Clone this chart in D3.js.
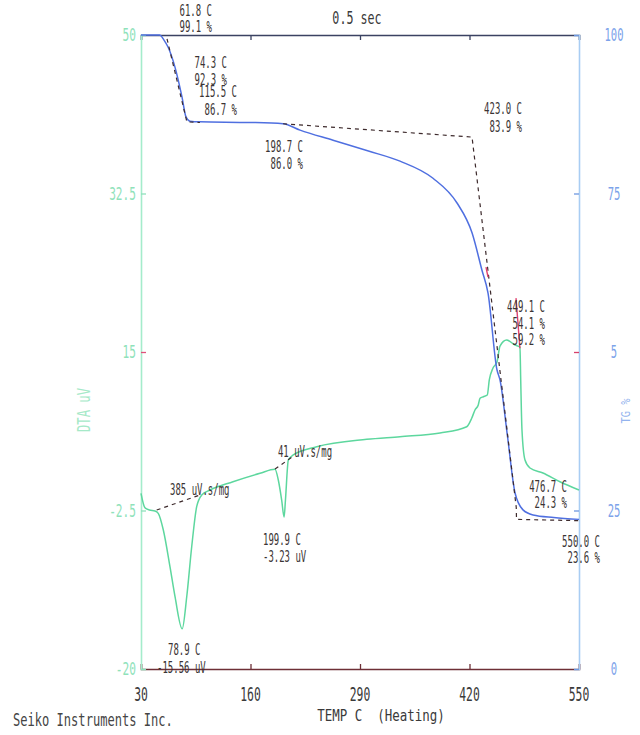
<!DOCTYPE html>
<html>
<head>
<meta charset="utf-8">
<script src="https://cdn.jsdelivr.net/npm/d3@7"></script>
<style>
  body { margin: 0; background: #fff; }
  svg { font-family: "DejaVu Sans Mono", "Liberation Mono", monospace; }
</style>
</head>
<body>
<script>
// Temperature axis (bottom)
var tempTicks = [30, 160, 290, 420, 550];

// DTA axis (left, uV)
var dtaTicks = [50, 32.5, 15, -2.5, -20];
var dtaTickLabels = ["50", "32.5", "15", "-2.5", "-20"];

// TG axis (right, %)
var tgTicks = [100, 75, 50, 25, 0];
var tgTickLabels = ["100", "75", "5", "25", "0"];

// TG curve (temperature C, weight %)
var tgTemp = [30, 52, 57.3, 62.1, 70.4, 78.7, 83.4, 88.2, 100, 160, 198.7, 218.8, 258, 300, 337.5,
  376.7, 405.2, 423, 434.8, 442, 452.6, 456.2, 465, 474, 483.5, 495.4, 520, 550];
var tgPct = [100, 100, 99.2, 98.1, 94.9, 90.2, 87.1, 86.4, 86.3, 86.2, 86.0, 85.0, 83.4, 81.7, 80.1,
  77.4, 73.5, 68.8, 62.9, 59.3, 47.2, 45.6, 36.8, 27.8, 25.1, 24.3, 23.9, 23.6];

// DTA curve (temperature C, uV)
var dtaTemp = [30, 34.7, 40, 46.6, 50.5, 56.5, 64.4, 70.4, 78.9, 84.3, 90.2, 96.1, 102.1, 111.9, 139.2,
  171.3, 189.1, 193, 197, 199.9, 201.5, 204.9, 210.8, 238.6, 298, 337.5, 385, 416.7, 422.6, 426.5,
  430.4, 432.5, 436.4, 441.1, 443.5, 447.9, 452.6, 456.2, 464.1, 474, 479.9, 480.8, 482.3, 485.9,
  491.8, 507.2, 527.4, 550];
var dtaVal = [-0.6, -2.2, -2.45, -2.55, -2.81, -4.65, -8.7, -12.02, -15.56, -12.02, -6.5, -2.08, -0.79, -0.24, 0.68,
  1.61, 2.05, 0.87, -1.34, -3.23, -1.34, 3.07, 3.63, 4.54, 5.36, 5.65, 6.06, 6.75, 7.68, 8.6,
  9.15, 9.89, 10.06, 10.25, 11.91, 13.23, 13.9, 15.66, 16.32, 15.77, 15.55, 11.91, 6.39, 3.07,
  2.19, 1.64, 0.68, -0.24];

// Tangent / baseline constructions (dashed)
var tgTangentA = [[60.9, 99.4], [84.5, 86.3], [100, 86.2]];
var tgTangentB = [[198.7, 86.0], [423.0, 83.9], [475.5, 25.5], [475.8, 23.6], [550, 23.4]];
var dtaBaseA = [[48.6, -2.45], [100, -0.79]];
var dtaBaseB = [[189.1, 2.08], [208.9, 3.37]];

// Red marker strokes (TG axis units)
var redMarks = [
  [[475.2, 58.5], [479.9, 50.6]],
  [[439.6, 63.4], [442, 61.8]]
];

// Annotation texts placed at (temperature, value)
var tgNotes = [
  ["61.8 C", 114.3, 103.0], ["99.1 %", 114.3, 100.5],
  ["74.3 C", 132.1, 94.8], ["92.3 %", 132.1, 92.1],
  ["115.5 C", 144.0, 90.2], ["86.7 %", 144.0, 87.4],
  ["198.7 C", 222.3, 81.5], ["86.0 %", 222.3, 78.9],
  ["423.0 C", 482.3, 87.5], ["83.9 %", 482.3, 84.7],
  ["449.1 C", 509.6, 56.3], ["54.1 %", 509.6, 53.6], ["59.2 %", 509.6, 51.1],
  ["476.7 C", 535.8, 27.9], ["24.3 %", 535.8, 25.4],
  ["550.0 C", 574.9, 19.2], ["23.6 %", 574.9, 16.7]
];
var dtaNotes = [
  ["385 uV.s/mg", 64.4, -0.79],
  ["41 uV.s/mg", 192.6, 3.41],
  ["199.9 C", 174.8, -6.31], ["-3.23 uV", 174.8, -8.19],
  ["78.9 C", 62.1, -18.46], ["-15.56 uV", 49.0, -20.44]
];

var width = 640, height = 735;
var plotL = 141, plotR = 579, plotT = 35, plotB = 669;

var svg = d3.select("body").append("svg")
    .attr("width", width)
    .attr("height", height);

var x = d3.scaleLinear().domain([30, 550]).range([plotL, plotR]);
var yL = d3.scaleLinear().domain([-20, 50]).range([plotB, plotT]);
var yR = d3.scaleLinear().domain([0, 100]).range([plotB, plotT]);

// squeezed plotter-like text
function txt(g, s, px, py, size, sx, anchor, color, rot) {
    return g.append("text")
        .attr("transform", "translate(" + px + "," + py + ")" + (rot ? " rotate(" + rot + ")" : "") + " scale(" + sx + ",1)")
        .attr("text-anchor", anchor || "start")
        .attr("font-size", size)
        .attr("fill", color)
        .style("white-space", "pre")
        .text(s);
}

// Axes
var axTop = svg.append("g").attr("transform", "translate(0," + plotT + ")")
    .call(d3.axisTop(x).tickValues(tempTicks).tickSize(-5).tickFormat(""));
axTop.select(".domain").attr("stroke", "#3b4262").attr("stroke-width", 1.6);
axTop.selectAll(".tick line").attr("stroke", "#3b4262").attr("stroke-width", 1.3);

var axBot = svg.append("g").attr("transform", "translate(0," + plotB + ")")
    .call(d3.axisBottom(x).tickValues(tempTicks).tickSize(-5).tickFormat(""));
axBot.select(".domain").attr("stroke", "#6e2f36").attr("stroke-width", 1.6);
axBot.selectAll(".tick line").attr("stroke", "#6e2f36").attr("stroke-width", 1.3);

var axL = svg.append("g").attr("transform", "translate(" + plotL + ",0)")
    .call(d3.axisLeft(yL).tickValues(dtaTicks).tickSize(-5).tickFormat(""));
axL.select(".domain").attr("stroke", "#a4eccb").attr("stroke-width", 1.6);
axL.selectAll(".tick line").attr("stroke", function (d) { return d === 15 ? "#e0507a" : "#8fe0bb"; }).attr("stroke-width", 1.3);

var axR = svg.append("g").attr("transform", "translate(" + plotR + ",0)")
    .call(d3.axisRight(yR).tickValues(tgTicks).tickSize(-5).tickFormat(""));
axR.select(".domain").attr("stroke", "#a9cdf3").attr("stroke-width", 1.6);
axR.selectAll(".tick line").attr("stroke", function (d) { return d === 50 ? "#d6406a" : "#6f98e0"; }).attr("stroke-width", 1.3);

// Tick labels
dtaTicks.forEach(function (d, i) {
    txt(svg, dtaTickLabels[i], 136, yL(d) + 6, 18, 0.62, "end", "#8fe2ba");
});
tgTicks.forEach(function (d, i) {
    txt(svg, tgTickLabels[i], 614, yR(d) + 6, 17, 0.62, "middle", "#7ca3ea");
});
tempTicks.forEach(function (d) {
    txt(svg, String(d), x(d), 701, 19, 0.6, "middle", "#3a3a3a");
});

// Titles
txt(svg, "0.5 sec", 357, 24, 18, 0.65, "middle", "#3a3a3a");
txt(svg, "TEMP C  (Heating)", 381, 721, 16, 0.78, "middle", "#3a3a3a");
txt(svg, "Seiko Instruments Inc.", 13, 726, 17, 0.71, "start", "#444");
txt(svg, "DTA uV", 90, 410, 18, 0.68, "middle", "#a6e9c8", -90);
txt(svg, "TG %", 630, 411, 13, 0.8, "middle", "#93b3ee", -90);

// Curves
var dtaLine = d3.line()
    .x(function (d, i) { return x(dtaTemp[i]); })
    .y(function (d) { return yL(d); })
    .curve(d3.curveMonotoneX);
svg.append("path")
    .attr("d", dtaLine(dtaVal))
    .attr("fill", "none")
    .attr("stroke", "#5dd79e")
    .attr("stroke-width", 1.5);

var tgLine = d3.line()
    .x(function (d, i) { return x(tgTemp[i]); })
    .y(function (d) { return yR(d); })
    .curve(d3.curveMonotoneX);
svg.append("path")
    .attr("d", tgLine(tgPct))
    .attr("fill", "none")
    .attr("stroke", "#4f6fe0")
    .attr("stroke-width", 1.5);

// Dashed constructions
var segR = d3.line().x(function (d) { return x(d[0]); }).y(function (d) { return yR(d[1]); });
var segL = d3.line().x(function (d) { return x(d[0]); }).y(function (d) { return yL(d[1]); });
[tgTangentA, tgTangentB].forEach(function (pts) {
    svg.append("path").attr("d", segR(pts)).attr("fill", "none")
        .attr("stroke", "#3d2a2c").attr("stroke-width", 1.2).attr("stroke-dasharray", "4,4");
});
[dtaBaseA, dtaBaseB].forEach(function (pts) {
    svg.append("path").attr("d", segL(pts)).attr("fill", "none")
        .attr("stroke", "#3d2a2c").attr("stroke-width", 1.2).attr("stroke-dasharray", "4,4");
});
redMarks.forEach(function (pts) {
    svg.append("path").attr("d", segR(pts)).attr("fill", "none")
        .attr("stroke", "#e0406e").attr("stroke-width", 1.4);
});

// Annotations
tgNotes.forEach(function (n) {
    txt(svg, n[0], x(n[1]), yR(n[2]), 15, 0.6, "end", "#3a3434");
});
dtaNotes.forEach(function (n) {
    txt(svg, n[0], x(n[1]), yL(n[2]), 15, 0.6, "start", "#3a3434");
});
</script>
</body>
</html>
